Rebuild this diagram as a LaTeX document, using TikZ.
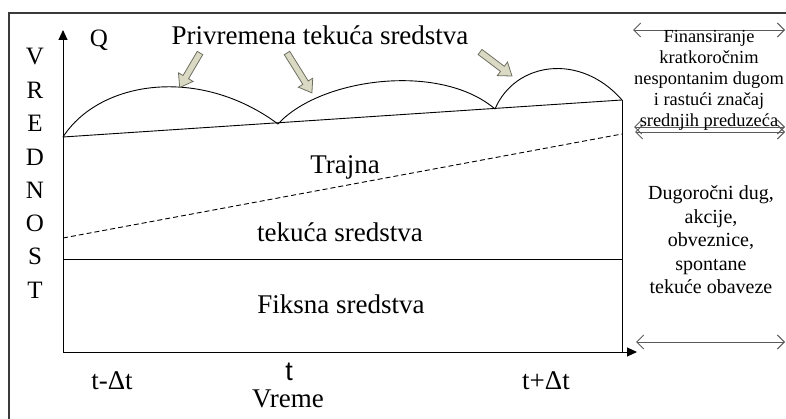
\documentclass[tikz,border=0pt]{standalone}
\usepackage{fontspec}
\setmainfont{Liberation Serif}
\newfontfamily\arialf{Liberation Sans}
\usetikzlibrary{arrows.meta}
\definecolor{framegray}{HTML}{3A3A3A}
\definecolor{hollowfill}{HTML}{DADAC4}
\definecolor{hollowedge}{HTML}{6E6E60}
\definecolor{sidegray}{HTML}{5A5A5A}
\tikzset{
  big/.style={font=\fontsize{27}{32}\selectfont, inner sep=0pt},
  axislbl/.style={font=\fontsize{25}{30}\selectfont, inner sep=0pt},
  sideA/.style={font=\fontsize{18.4}{21}\selectfont, align=center, inner sep=0pt},
  sideB/.style={font=\fontsize{20}{23.5}\selectfont, align=center, inner sep=0pt},
  axisline/.style={line width=0.9pt, -{Triangle[length=10pt,width=9pt]}},
  sidearrow/.style={sidegray, line width=0.9pt, {Straight Barb[length=7pt,width=14pt]}-{Straight Barb[length=7pt,width=14pt]}},
  hollow/.style={draw=hollowedge, fill=hollowfill, line width=0.8pt, line join=miter},
  chart/.style={line width=0.9pt}
}
\begin{document}
\begin{tikzpicture}[x=1pt,y=-1pt]
\useasboundingbox (0,0) rectangle (786,419);
% outer frame
\draw[framegray, line width=1.3pt] (9,420) -- (9,13) -- (787,13);
% key points
\coordinate (o) at (63,352);
\coordinate (yt) at (63,30);
\coordinate (xt) at (637,352);
\coordinate (rt) at (622,100);
\coordinate (rb) at (622,352);
\coordinate (fl) at (63,259);
\coordinate (fr) at (622,259);
\coordinate (dl) at (63,238);
\coordinate (dr) at (622,134);
\coordinate (b0) at (63,137);
\coordinate (b1) at (278,124);
\coordinate (b2) at (495,109);
\coordinate (b3) at (622,100);
% axes
\draw[axisline] (o) -- (yt);
\draw[axisline] (o) -- (xt);
% rectangle parts
\draw[chart] (rb) -- (rt);
\draw[chart] (fl) -- (fr);
\draw[chart] (b0) -- (b3);
\draw[chart, dashed, dash pattern=on 5pt off 3pt] (dl) -- (dr);
% humps
\draw[chart] (b0) .. controls (100,80) and (200,66) .. (b1);
\draw[chart] (b1) .. controls (320,78) and (440,62) .. (b2);
\draw[chart] (b2) .. controls (515,62) and (580,52) .. (b3);
% hollow arrows
\foreach \tx/\ty/\ang/\len in {200/53/-120.5/40, 287/53/-58/47, 480/52/-36.9/40}{
  \begin{scope}[shift={(\tx,\ty)}, rotate=\ang]
    \draw[hollow] (0,-3.2) -- (\len-12,-3.2) -- (\len-12,-8.5) -- (\len,0) -- (\len-12,8.5) -- (\len-12,3.2) -- (0,3.2) -- cycle;
  \end{scope}
}
% labels
\node[axislbl, anchor=base] (q) at (99,47) {Q};
\node[big, anchor=base] (title) at (320,45) {Privremena tekuća sredstva};
\foreach \L [count=\i from 0] in {V,R,E,D,N,O,S,T}{
  \node[axislbl] (v\i) at (35,{57+33.3*\i}) {\L};
}
\node[big, anchor=base] (trajna) at (345,174) {Trajna};
\node[big, anchor=base] (tekuca) at (340,242) {tekuća sredstva};
\node[big, anchor=base] (fiksna) at (341,313) {Fiksna sredstva};
\node[big, anchor=base] (tm) at (112,389) {t-Δt};
\node[font={\arialf\fontsize{27}{32}\selectfont}, inner sep=0pt, anchor=base] (t0) at (289,380) {t};
\node[big, anchor=base] (vreme) at (288,407) {Vreme};
\node[big, anchor=base] (tp) at (546,389) {t+Δt};
% right side
\draw[sidearrow] (633,30) -- (785,30);
\draw[sidearrow] (634,127) -- (785,127);
\draw[sidearrow] (635,132) -- (785,132);
\draw[sidearrow] (636,342) -- (785,342);
\node[sideA] (fin) at (709,80) {Finansiranje\\kratkoročnim\\nespontanim dugom\\i rastući značaj\\srednjih preduzeća};
\node[sideB] (dug) at (711,240) {Dugoročni dug,\\akcije,\\obveznice,\\spontane\\tekuće obaveze};
\end{tikzpicture}
\end{document}
